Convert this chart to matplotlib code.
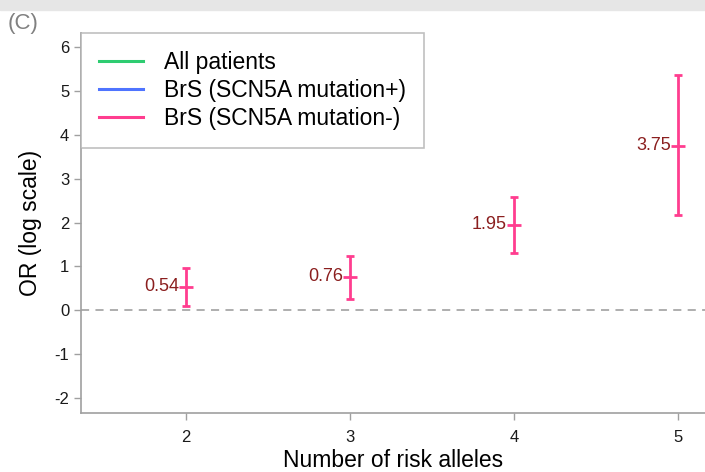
import matplotlib
matplotlib.use('Agg')
import matplotlib.pyplot as plt
from matplotlib.lines import Line2D

plt.rcParams['font.family'] = ['Liberation Sans', 'DejaVu Sans']
plt.rcParams['axes.unicode_minus'] = False

# data
alleles = [2, 3, 4, 5]
or_val = [0.54, 0.76, 1.95, 3.75]
ci_low = [0.10, 0.26, 1.31, 2.17]
ci_high = [0.97, 1.24, 2.58, 5.36]
labels = ['0.54', '0.76', '1.95', '3.75']
legend_names = ['All patients', 'BrS (SCN5A mutation+)', 'BrS (SCN5A mutation-)']
legend_colors = ['#2ecc71', '#4f74ff', '#ff3d8f']

pink = '#ff3d8f'
darkred = '#8b1f1f'
gray = '#a0a0a0'

fig = plt.figure(figsize=(7.05, 4.72), dpi=100)
# light gray band at top
fig.patches.append(plt.Rectangle((0, 0.979), 1, 0.021, transform=fig.transFigure,
                                 color='#e6e6e6', zorder=0))
fig.text(0.011, 0.951, '(C)', color='#808080', fontsize=16, va='center')

ax = fig.add_axes([0.115, 0.125, 0.885, 0.805])

yerr = [[v - l for v, l in zip(or_val, ci_low)], [h - v for v, h in zip(or_val, ci_high)]]
ax.errorbar(alleles, or_val, yerr=yerr, fmt='none', ecolor=pink, elinewidth=2.0,
            capsize=2.8, capthick=2, zorder=3)
ax.plot(alleles, or_val, marker='_', color=pink, markersize=10.5, mew=2, ls='none', zorder=3)
for x, y, t in zip(alleles, or_val, labels):
    ax.annotate(t, (x, y), xytext=(-5, 0), textcoords='offset points',
                ha='right', va='center', color=darkred, fontsize=13)

ax.axhline(0, color='#a8a8a8', ls=(0, (4.5, 3.5)), lw=1.3, zorder=1)

ax.set_xlim(1.36, 5.165)
ax.set_ylim(-2.34, 6.32)
ax.set_xticks(alleles)
ax.set_yticks(range(-2, 7))
ax.set_xlabel('Number of risk alleles', fontsize=16.5, labelpad=3)
ax.set_ylabel('OR (log scale)', fontsize=16.5, labelpad=9)

for s in ['top', 'right']:
    ax.spines[s].set_visible(False)
for s in ['left', 'bottom']:
    ax.spines[s].set_color(gray)
    ax.spines[s].set_linewidth(1.2)
ax.tick_params(colors=gray, labelcolor='#1a1a1a', labelsize=12, length=5, width=1)
ax.tick_params(axis='x', pad=7)

handles = [Line2D([0], [0], color=c, lw=2.2) for c in legend_colors]
leg = ax.legend(handles, legend_names, loc='upper left', bbox_to_anchor=(0, 1.0),
                fontsize=16.5, frameon=True, fancybox=False, handlelength=1.9,
                labelspacing=0.2, borderpad=0.8, handletextpad=0.9,
                borderaxespad=0)
leg.get_frame().set_edgecolor('#b0b0b0')
leg.get_frame().set_linewidth(1.2)

fig.savefig('out.png', dpi=100)
